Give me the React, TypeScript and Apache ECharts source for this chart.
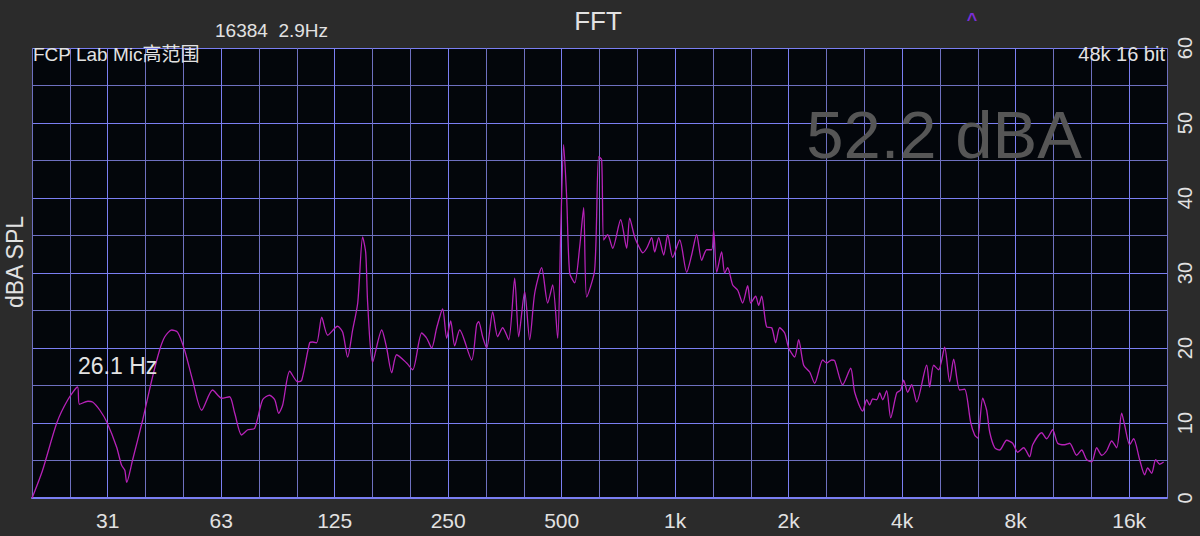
import React, { useEffect, useRef } from 'react';
import * as echarts from 'echarts';

// Frequency (Hz) and level (dBA SPL)
const freqHz = [
  19.7, 21.0, 22.9, 24.5, 26.0, 26.3, 27.7, 28.5, 29.8, 31.1,
  33.0, 34.0, 34.7, 35.1, 36.4, 38.7, 40.9, 42.9, 44.3, 46.2,
  47.9, 50.0, 52.5, 55.5, 59.3, 62.7, 65.8, 67.9, 70.8, 73.5,
  76.7, 80.5, 84.0, 86.7, 88.8, 91.0, 95.0, 99.7, 102.2, 107.3,
  109.3, 112.0, 115.5, 119.8, 127.3, 131.3, 135.3, 139.5, 143.9, 148.3,
  151.1, 152.9, 157.6, 166.6, 171.7, 177.1, 182.5, 194.0, 201.3, 212.7,
  219.3, 226.1, 233.1, 241.7, 247.7, 253.9, 260.1, 268.2, 288.6, 297.5,
  301.2, 308.6, 316.3, 328.1, 338.2, 348.7, 361.8, 375.3, 384.6, 398.9,
  411.3, 424.1, 442.5, 459.1, 473.3, 488.0, 497.0, 506.1, 515.5, 525.0,
  541.4, 558.2, 571.9, 582.5, 611.6, 626.7, 638.3, 646.1, 662.2, 682.7,
  716.9, 743.7, 757.5, 780.9, 805.2, 820.1, 840.3, 866.4, 882.4, 904.3,
  932.3, 955.3, 984.9, 1028, 1073, 1106, 1140, 1176, 1212, 1250,
  1265, 1289, 1328, 1353, 1378, 1421, 1465, 1510, 1557, 1586,
  1635, 1665, 1696, 1749, 1803, 1847, 1893, 1952, 2000, 2075,
  2126, 2192, 2274, 2344, 2462, 2522, 2601, 2649, 2781, 2921,
  2993, 3143, 3221, 3280, 3341, 3423, 3487, 3551, 3639, 3729,
  3868, 3964, 4037, 4137, 4239, 4371, 4646, 4731, 4848, 4999,
  5185, 5346, 5478, 5683, 5859, 6077, 6228, 6343, 6541, 6702,
  6826, 7038, 7256, 7573, 7855, 8098, 8401, 8714, 8876, 9377,
  9667, 10028, 10338, 10790, 11125, 11610, 11971, 12343, 12726, 13121,
  13528, 13947, 14380, 14825, 15284, 15567, 16049, 16445, 17059, 17590,
  17915, 18357, 18811, 19275, 19752,
];

const levelDb = [
  0.0, 3.7, 10.0, 13.1, 14.8, 12.5, 12.9, 12.8, 11.7, 10.1,
  6.8, 4.4, 3.7, 2.1, 5.1, 10.4, 15.7, 19.7, 21.5, 22.4,
  22.1, 19.7, 15.7, 11.7, 14.4, 13.3, 13.5, 11.3, 8.4, 9.1,
  9.3, 13.1, 13.7, 13.1, 11.3, 12.4, 16.9, 15.5, 15.7, 20.7,
  20.8, 20.7, 24.1, 21.7, 22.9, 22.1, 18.8, 22.4, 26.0, 34.8,
  32.7, 26.0, 18.1, 22.4, 20.0, 16.7, 19.1, 18.0, 17.1, 22.0,
  21.3, 20.0, 22.7, 25.2, 21.3, 23.6, 20.3, 22.4, 18.4, 23.1,
  23.5, 21.5, 20.0, 24.8, 21.5, 22.7, 21.1, 29.3, 21.5, 27.5,
  21.1, 27.3, 30.7, 26.0, 28.4, 21.3, 35.3, 47.1, 40.1, 30.0,
  28.7, 33.5, 38.7, 26.8, 30.4, 45.5, 45.1, 34.4, 35.1, 33.3,
  37.1, 33.3, 37.3, 34.8, 33.3, 32.7, 33.3, 34.7, 32.8, 34.7,
  32.4, 35.1, 32.1, 34.4, 30.1, 32.4, 35.1, 31.7, 33.1, 33.1,
  35.7, 30.1, 32.8, 30.0, 30.7, 28.4, 27.7, 26.0, 28.3, 26.0,
  26.9, 25.7, 26.9, 22.8, 22.7, 20.7, 22.7, 22.0, 20.0, 18.8,
  21.1, 17.7, 16.8, 15.3, 18.4, 18.0, 18.4, 18.3, 15.1, 17.3,
  14.1, 11.6, 13.1, 12.4, 13.2, 13.1, 14.0, 13.1, 14.3, 10.7,
  14.0, 14.4, 15.7, 14.1, 15.1, 12.8, 17.7, 14.8, 17.7, 17.1,
  20.1, 15.5, 18.5, 14.4, 14.5, 10.1, 8.4, 8.0, 13.3, 11.7,
  8.8, 6.7, 6.4, 7.7, 7.3, 6.1, 6.7, 5.5, 7.1, 8.7,
  7.9, 9.1, 7.3, 7.1, 7.3, 5.7, 6.4, 5.1, 4.8, 6.7,
  5.7, 6.3, 7.6, 6.7, 11.3, 9.7, 7.1, 7.9, 5.1, 3.1,
  4.0, 3.3, 5.1, 4.5, 4.8,
];

const octaveLabels = ['31', '63', '125', '250', '500', '1k', '2k', '4k', '8k', '16k'];
const REF_HZ = 31.25; // frequency of the "31" label
const MIN_THIRD = -2; // axis starts 2/3 octave below 31 Hz
const MAX_THIRD = 28; // ends 1/3 octave above 16k
const Y_MIN = 0;
const Y_MAX = 60;

const FONT = '"Liberation Sans", Arial, "Noto Sans CJK SC", sans-serif';
const TEXT = '#e2e2e2';
const MAJOR = '#7a7ef2';
const MINOR = '#6e70c0';

const toThird = (f: number) => 3 * Math.log2(f / REF_HZ);

export default function App() {
  const ref = useRef<HTMLDivElement>(null);
  useEffect(() => {
    if (!ref.current) return;
    const chart = echarts.init(ref.current, null, { renderer: 'svg' });
    const data = freqHz.map((f, i) => [toThird(f), levelDb[i]]);
    const txt = (text: string, x: number, y: number, font: string, fill: string, align: string, extra: any = {}) => ({
      type: 'text',
      x,
      y,
      z: 10,
      ...extra,
      style: { text, fill, font, textAlign: align, textVerticalAlign: 'middle', align, verticalAlign: 'middle' },
    });
    chart.setOption({
      animation: false,
      backgroundColor: '#2b2b2b',
      grid: {
        left: 32,
        right: 33,
        top: 48,
        bottom: 38,
        show: true,
        backgroundColor: '#03060b',
        borderWidth: 0,
      },
      xAxis: {
        type: 'value',
        min: MIN_THIRD,
        max: MAX_THIRD,
        interval: 1,
        axisLine: { show: true, lineStyle: { color: MAJOR, width: 2 } },
        axisTick: { show: false },
        splitLine: {
          show: true,
          lineStyle: { color: [MINOR, MINOR, MAJOR], width: 1 },
        },
        axisLabel: {
          color: TEXT,
          fontFamily: FONT,
          fontSize: 21,
          margin: 12,
          formatter: (v: number) => {
            const k = Math.round(v);
            if (Math.abs(v - k) > 1e-6 || k < 0 || k % 3 !== 0) return '';
            return octaveLabels[k / 3] ?? '';
          },
        },
      },
      yAxis: {
        type: 'value',
        position: 'right',
        min: Y_MIN,
        max: Y_MAX,
        interval: 5,
        axisLine: { show: false },
        axisTick: { show: false },
        splitLine: {
          show: true,
          lineStyle: { color: [MAJOR, MINOR], width: 1 },
        },
        axisLabel: {
          color: TEXT,
          fontFamily: FONT,
          fontSize: 20,
          rotate: 90,
          margin: 8,
          formatter: (v: number) => (v % 10 === 0 ? String(v) : ''),
        },
      },
      series: [
        {
          type: 'line',
          data,
          showSymbol: false,
          smooth: 0.25,
          lineStyle: { color: '#b722b8', width: 1.3 },
          z: 3,
        },
      ],
      graphic: [
        txt('FFT', 598, 21, `26px ${FONT}`, TEXT, 'center'),
        txt('16384  2.9Hz', 215, 30, `19px ${FONT}`, TEXT, 'left'),
        txt('^', 972, 20, `bold 18px ${FONT}`, '#7a2fd6', 'center'),
        txt('FCP Lab Mic高范围', 33, 54, `19px ${FONT}`, TEXT, 'left'),
        txt('48k 16 bit', 1165, 54, `20px ${FONT}`, TEXT, 'right'),
        txt('52.2 dBA', 944, 134, `67px ${FONT}`, '#565656', 'center'),
        txt('26.1 Hz', 78, 366, `23px ${FONT}`, TEXT, 'left'),
        txt('dBA SPL', 15, 262, `23px ${FONT}`, TEXT, 'center', { rotation: Math.PI / 2 }),
      ],
    });
    return () => chart.dispose();
  }, []);
  return <div ref={ref} style={{ position: 'fixed', left: 0, top: 0, width: 1200, height: 536 }} />;
}
